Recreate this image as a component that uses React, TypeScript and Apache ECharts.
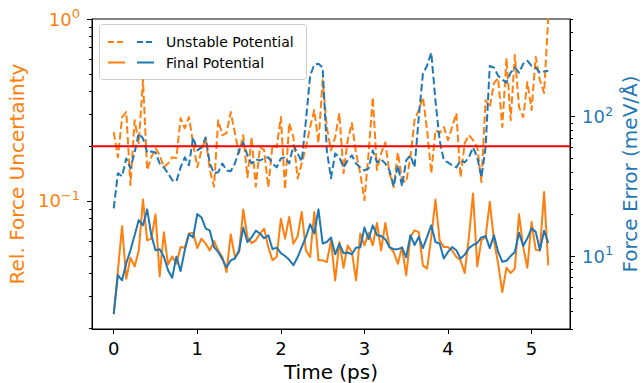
import { useEffect, useRef } from "react";
import * as echarts from "echarts";

// ---- data ----
const TIME_STEP_PS = 0.05;

// Rel. Force Uncertainty (left axis, orange)
const relUncertaintyUnstable = [
  0.239, 0.174, 0.289, 0.308, 0.122, 0.278, 0.208, 0.462, 0.148, 0.174,
  0.195, 0.179, 0.153, 0.161, 0.174, 0.172, 0.285, 0.251, 0.289, 0.208,
  0.153, 0.190, 0.221, 0.148, 0.120, 0.278, 0.230, 0.236, 0.308, 0.236,
  0.183, 0.230, 0.135, 0.224, 0.120, 0.198, 0.190, 0.119, 0.203, 0.198,
  0.289, 0.116, 0.268, 0.224, 0.133,
  0.161, 0.198, 0.255, 0.316, 0.208, 0.462, 0.255, 0.190, 0.224, 0.304,
  0.142, 0.216, 0.268, 0.183, 0.142, 0.101, 0.183, 0.372, 0.148, 0.183,
  0.210, 0.142, 0.119, 0.185, 0.130, 0.127, 0.174, 0.278, 0.316, 0.372,
  0.245, 0.142, 0.245, 0.236, 0.255, 0.216, 0.255, 0.304, 0.135, 0.208,
  0.230, 0.216, 0.198, 0.127, 0.358, 0.328, 0.444, 0.473, 0.255, 0.610,
  0.278, 0.634, 0.328, 0.289, 0.450, 0.316, 0.618, 0.462, 0.392, 1.02,
];

const relUncertaintyFinal = [
  0.0238, 0.0416, 0.0726, 0.0374, 0.0488, 0.0437, 0.0535, 0.1018, 0.0608, 0.0621,
  0.0845, 0.0385, 0.0673, 0.0448, 0.0496, 0.0452, 0.0558, 0.0553, 0.0662, 0.0668,
  0.0551, 0.0621, 0.0583, 0.0535, 0.0603, 0.0535, 0.0492, 0.0407, 0.0656, 0.0492,
  0.0524, 0.0897, 0.0634, 0.0587, 0.0608, 0.0662, 0.0705, 0.0558, 0.0472, 0.0492,
  0.080, 0.0621, 0.0817, 0.0583, 0.0639, 0.087, 0.0535, 0.0492, 0.087, 0.0472,
  0.0472, 0.0462, 0.0608, 0.0366, 0.0596, 0.043, 0.057, 0.0524, 0.0366, 0.0662,
  0.057, 0.0668, 0.057, 0.0757, 0.0535, 0.0757, 0.0558, 0.0524, 0.0452, 0.0558,
  0.039, 0.0634, 0.069, 0.0675, 0.0443, 0.0425, 0.0634, 0.1018, 0.0608, 0.0558,
  0.0558, 0.0535, 0.0492, 0.0472, 0.0402, 0.0634, 0.11, 0.0437, 0.0608, 0.0634,
  0.0989, 0.0608, 0.0452, 0.0316, 0.043, 0.0402, 0.0425, 0.0845, 0.0558, 0.043,
  0.0768, 0.0539, 0.0535, 0.112, 0.0443,
];

// Force Error in meV/Å (right axis, blue)
const forceErrorUnstable = [
  22.0, 39.2, 37.3, 50.1, 42.5, 55.3, 75.6, 69.7, 55.3, 56.2,
  55.3, 46.1, 43.2, 39.2, 34.9, 34.3, 43.2, 51.0, 44.7, 70.8,
  57.2, 60.1, 70.8, 46.1, 39.2, 39.8, 46.1, 41.1, 40.5, 46.1,
  57.2, 65.3, 52.7, 46.1, 49.3, 48.5, 50.1, 51.0, 46.1, 43.2,
  50.1, 51.0, 46.1, 62.1, 54.4,
  47.7, 93.6, 196, 235, 239, 224, 57.2, 36.1, 54.4, 51.0,
  43.2, 48.5, 52.7, 46.1, 43.2, 41.1, 42.5, 57.2, 46.9, 49.3,
  46.1, 41.1, 31.6, 44.7, 31.6, 48.5, 52.7, 43.2, 98.4, 203,
  231, 287, 130, 67.4, 48.5, 46.9, 44.7, 43.2, 48.5, 46.9,
  51.0, 60.1, 51.0, 36.7, 60.1, 231, 224, 196, 184, 175,
  206, 224, 206, 239, 251, 231, 224, 206, 210, 213,
];

const forceErrorFinal = [
  3.85, 7.3, 6.7, 8.9, 11.0, 14.1, 18.1, 16.6, 21.6, 14.1,
  11.0, 11.2, 9.9, 7.9, 7.0, 9.9, 7.8, 11.0, 14.4, 13.6,
  20.0, 18.9, 15.8, 15.2, 11.6, 10.7, 9.5, 8.3, 9.3, 9.6,
  11.0, 16.0, 12.6, 13.6, 15.2, 14.5, 13.4, 14.1, 11.2, 11.5,
  10.5, 10.0, 9.4, 8.6, 9.8, 11.6, 13.7, 16.9, 14.5, 21.6,
  12.3, 12.6, 13.6, 10.3, 12.2, 10.5, 10.6, 10.3, 11.5, 11.5,
  16.0, 13.2, 16.6, 14.1, 13.9, 13.2, 11.6, 11.2, 11.2, 11.5,
  9.8, 14.1, 12.0, 13.7, 11.4, 13.7, 16.6, 12.6, 12.3, 9.6,
  10.7, 11.6, 11.0, 9.6, 10.2, 11.4, 12.0, 12.4, 13.6, 13.9,
  11.4, 14.1, 10.7, 9.1, 9.25, 10.0, 10.7, 14.7, 11.8, 13.4,
  15.8, 14.9, 11.0, 15.2, 12.4,
];

const thresholdUncertainty = 0.2;

const xTickValues = [0, 1, 2, 3, 4, 5];
const leftMajorTicks = [0.1, 1];
const leftMinorTicks = [0.02, 0.03, 0.04, 0.05, 0.06, 0.07, 0.08, 0.09, 0.2, 0.3, 0.4, 0.5, 0.6, 0.7, 0.8, 0.9];
const rightMajorTicks = [10, 100];
const rightMinorTicks = [3, 4, 5, 6, 7, 8, 9, 20, 30, 40, 50, 60, 70, 80, 90, 200, 300, 400, 500];

const X_MIN = -0.26;
const X_MAX = 5.46;
const LEFT_MIN = 0.0198;
const LEFT_MAX = 1;
const RIGHT_MIN = 3;
const RIGHT_MAX = 500;

const legendLabels = ["Unstable Potential", "Final Potential"];

// ---- styling ----
const ORANGE = "#ff7f0e";
const BLUE = "#1f77b4";
const FONT = '"DejaVu Sans", sans-serif';
const DASH = [7.5, 3.3];
const LW = 2;

const lg = (v: number) => Math.log10(v);
const toSeries = (vals: number[]) => vals.map((v, i) => [i * TIME_STEP_PS, lg(v)]);

const powLabel = (color: string) => ({
  formatter: (v: number) => {
    const n = Math.round(v);
    const e = n < 0 ? "\u2212" + -n : String(n);
    return `{b|10}{s|${e}}`;
  },
  rich: {
    b: { fontSize: 18, fontFamily: FONT, color, lineHeight: 24 },
    s: { fontSize: 13, fontFamily: FONT, color, verticalAlign: "top", lineHeight: 13 },
  },
});

export default function App() {
  const ref = useRef<HTMLDivElement>(null);

  useEffect(() => {
    if (!ref.current) return;
    const chart = echarts.init(ref.current, undefined, { renderer: "svg" });

    const tickStyle = { color: "#000", width: 1 };

    const option: any = {
      animation: false,
      grid: {
        left: 92,
        right: 72,
        top: 19,
        bottom: 54,
        show: true,
        borderColor: "#000",
        borderWidth: 1,
        backgroundColor: "transparent",
        outerBoundsMode: "none",
      },
      xAxis: {
        type: "value",
        min: X_MIN,
        max: X_MAX,
        name: "Time (ps)",
        nameLocation: "middle",
        nameGap: 30,
        nameTextStyle: { fontSize: 20, color: "#000", fontFamily: FONT },
        axisLine: { show: true, onZero: false, lineStyle: tickStyle },
        axisTick: { show: true, customValues: xTickValues, length: 5, lineStyle: tickStyle },
        axisLabel: { customValues: xTickValues, fontSize: 18, color: "#000", fontFamily: FONT, margin: 10 },
        splitLine: { show: false },
      },
      yAxis: [
        {
          type: "value",
          position: "left",
          min: lg(LEFT_MIN),
          max: lg(LEFT_MAX),
          name: "Rel. Force Uncertainty",
          nameLocation: "middle",
          nameGap: 58,
          nameTextStyle: { fontSize: 20, color: ORANGE, fontFamily: FONT },
          axisLine: { show: true, onZero: false, lineStyle: tickStyle },
          axisTick: { show: true, customValues: leftMajorTicks.map(lg), length: 5, lineStyle: tickStyle },
          axisLabel: { customValues: leftMajorTicks.map(lg), margin: 12, ...powLabel(ORANGE) },
          splitLine: { show: false },
        },
        {
          type: "value",
          position: "left",
          min: lg(LEFT_MIN),
          max: lg(LEFT_MAX),
          axisLine: { show: false, onZero: false },
          axisTick: { show: true, customValues: leftMinorTicks.map(lg), length: 3, lineStyle: tickStyle },
          axisLabel: { show: false },
          splitLine: { show: false },
        },
        {
          type: "value",
          position: "right",
          min: lg(RIGHT_MIN),
          max: lg(RIGHT_MAX),
          name: "Force Error (meV/\u00c5)",
          nameLocation: "middle",
          nameGap: 50,
          nameMoveOverlap: false,
          nameTextStyle: { fontSize: 20, lineHeight: 20, color: BLUE, fontFamily: FONT },
          axisLine: { show: true, onZero: false, lineStyle: tickStyle },
          axisTick: { show: true, customValues: rightMajorTicks.map(lg), length: 5, lineStyle: tickStyle },
          axisLabel: { customValues: rightMajorTicks.map(lg), margin: 12, ...powLabel(BLUE) },
          splitLine: { show: false },
        },
        {
          type: "value",
          position: "right",
          min: lg(RIGHT_MIN),
          max: lg(RIGHT_MAX),
          axisLine: { show: false, onZero: false },
          axisTick: { show: true, customValues: rightMinorTicks.map(lg), length: 3, lineStyle: tickStyle },
          axisLabel: { show: false },
          splitLine: { show: false },
        },
      ],
      series: [
        {
          name: "Unstable Potential (uncertainty)",
          type: "line",
          yAxisIndex: 0,
          data: toSeries(relUncertaintyUnstable),
          showSymbol: false,
          symbol: "none",
          lineStyle: { color: ORANGE, width: LW, type: DASH, join: "round" },
          z: 2,
        },
        {
          name: "Final Potential (uncertainty)",
          type: "line",
          yAxisIndex: 0,
          data: toSeries(relUncertaintyFinal),
          showSymbol: false,
          symbol: "none",
          lineStyle: { color: ORANGE, width: LW, type: "solid", join: "round" },
          z: 3,
        },
        {
          name: "Unstable Potential (error)",
          type: "line",
          yAxisIndex: 2,
          data: toSeries(forceErrorUnstable),
          showSymbol: false,
          symbol: "none",
          lineStyle: { color: BLUE, width: LW, type: DASH, join: "round" },
          z: 4,
        },
        {
          name: "Final Potential (error)",
          type: "line",
          yAxisIndex: 2,
          data: toSeries(forceErrorFinal),
          showSymbol: false,
          symbol: "none",
          lineStyle: { color: BLUE, width: LW, type: "solid", join: "round" },
          z: 5,
        },
        {
          name: "threshold",
          type: "line",
          yAxisIndex: 0,
          data: [
            [X_MIN, lg(thresholdUncertainty)],
            [X_MAX, lg(thresholdUncertainty)],
          ],
          showSymbol: false,
          symbol: "none",
          lineStyle: { color: "#ff0000", width: 2 },
          z: 6,
        },
      ],
      graphic: [
        {
          type: "group",
          z: 100,
          children: [
            {
              type: "rect",
              shape: { x: 99.5, y: 24.5, width: 207, height: 55, r: 3 },
              style: { fill: "rgba(255,255,255,0.8)", stroke: "#cccccc", lineWidth: 1 },
            },
            { type: "line", shape: { x1: 108, y1: 42, x2: 125, y2: 42 }, style: { stroke: ORANGE, lineWidth: LW, lineDash: [6, 3] } },
            { type: "line", shape: { x1: 137, y1: 42, x2: 154, y2: 42 }, style: { stroke: BLUE, lineWidth: LW, lineDash: [6, 3] } },
            { type: "line", shape: { x1: 108, y1: 62.5, x2: 125, y2: 62.5 }, style: { stroke: ORANGE, lineWidth: LW } },
            { type: "line", shape: { x1: 137, y1: 62.5, x2: 154, y2: 62.5 }, style: { stroke: BLUE, lineWidth: LW } },
            {
              type: "text",
              x: 166,
              y: 42,
              style: { text: legendLabels[0], font: `14px ${FONT}`, fill: "#000", verticalAlign: "middle", align: "left" },
            },
            {
              type: "text",
              x: 166,
              y: 62.5,
              style: { text: legendLabels[1], font: `14px ${FONT}`, fill: "#000", verticalAlign: "middle", align: "left" },
            },
          ],
        },
      ],
    };

    chart.setOption(option);
    return () => chart.dispose();
  }, []);

  return (
    <div
      ref={ref}
      style={{ position: "absolute", left: 0, top: 0, width: 642, height: 383, background: "#fff" }}
    />
  );
}
